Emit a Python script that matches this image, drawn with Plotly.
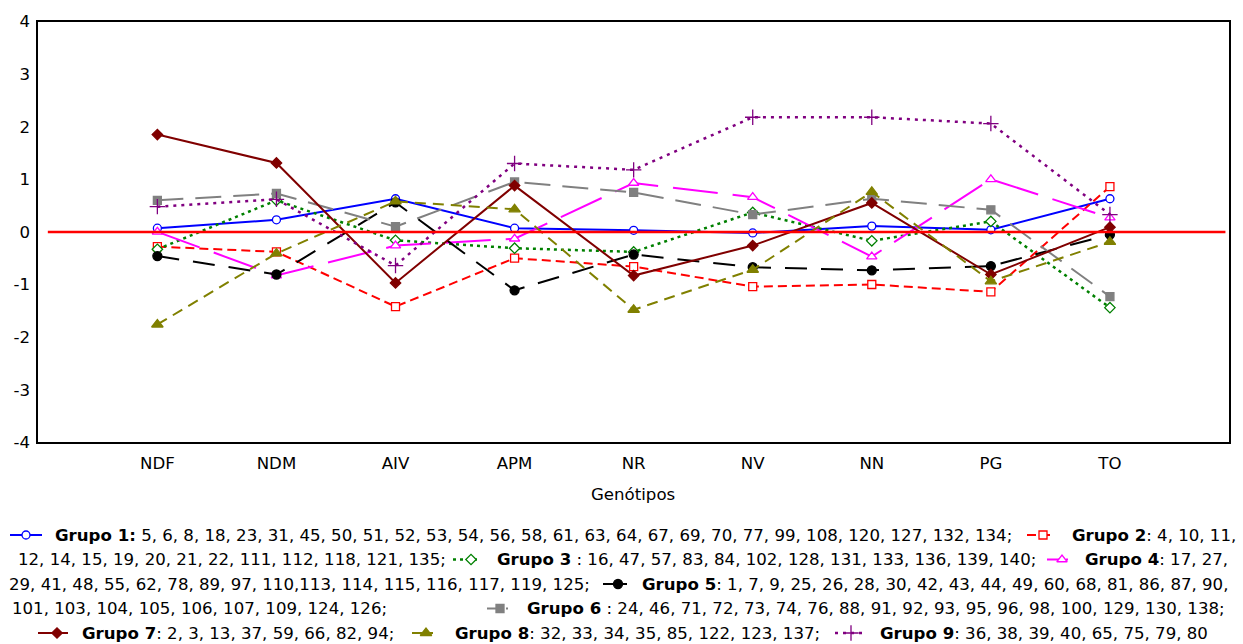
import plotly.graph_objects as go

# Traits evaluated and the mean profile of each genotype group
traits = ["NDF", "NDM", "AIV", "APM", "NR", "NV", "NN", "PG", "TO"]

grupo1 = [0.07, 0.23, 0.63, 0.07, 0.03, -0.02, 0.11, 0.04, 0.63]
grupo2 = [-0.28, -0.38, -1.42, -0.50, -0.66, -1.04, -1.00, -1.14, 0.86]
grupo3 = [-0.33, 0.60, -0.16, -0.31, -0.38, 0.37, -0.17, 0.20, -1.44]
grupo4 = [0.00, -0.83, -0.26, -0.13, 0.93, 0.66, -0.47, 1.00, 0.27]
grupo5 = [-0.46, -0.81, 0.56, -1.11, -0.43, -0.67, -0.73, -0.65, -0.05]
grupo6 = [0.60, 0.73, 0.10, 0.95, 0.75, 0.33, 0.63, 0.42, -1.23]
grupo7 = [1.85, 1.31, -0.97, 0.88, -0.83, -0.26, 0.55, -0.81, 0.09]
grupo8 = [-1.76, -0.41, 0.58, 0.43, -1.48, -0.72, 0.76, -0.94, -0.19]
grupo9 = [0.48, 0.62, -0.64, 1.30, 1.18, 2.18, 2.18, 2.06, 0.33]

y_ticks = [-4, -3, -2, -1, 0, 1, 2, 3, 4]
y_tick_labels = ["-4", "-3", "-2", "-1", "0", "1", "2", "3", "4"]

W, H = 1243, 644
FONT = "DejaVu Sans"
FS = 16.6

# per-group styling: values, colour, dash, marker symbol, size, fill, line width
styles = [
    (grupo1, "#0000FF", "solid", "circle", 8, "white", 2),
    (grupo2, "#FF0000", "9px,5px", "square", 8, "white", 2),
    (grupo3, "#008000", "3px,4px", "diamond", 8, "white", 2.5),
    (grupo4, "#FF00FF", "45px,15px", "triangle-up", 9, "white", 2),
    (grupo5, "#000000", "22px,14px", "circle", 9, "#000000", 2),
    (grupo6, "#808080", "26px,12px", "square", 8, "#808080", 2),
    (grupo7, "#800000", "solid", "diamond", 8, "#800000", 2),
    (grupo8, "#808000", "11px,7px", "triangle-up", 10, "#808000", 2),
    (grupo9, "#800080", "3px,5px", "cross-thin", 11, "#800080", 2.5),
]

xpos = list(range(1, len(traits) + 1))

fig = go.Figure()

for i, (vals, col, dash, sym, size, fill, lw) in enumerate(styles):
    fig.add_trace(go.Scatter(
        x=xpos, y=vals, mode="lines+markers", name=f"Grupo {i + 1}",
        line=dict(color=col, width=lw, dash=dash),
        marker=dict(symbol=sym, size=size, color=fill, line=dict(color=col, width=1.3)),
        showlegend=False, xaxis="x", yaxis="y",
    ))

# horizontal reference at zero
fig.add_shape(type="line", xref="x", yref="y", x0=0.08, x1=9.97, y0=0, y1=0,
              line=dict(color="#FF0000", width=2.5), layer="above")

# ---- legend drawn in figure pixel space (x2/y2) ----
line_y = [535, 559.5, 584, 608.5, 633]
legend_keys = [
    # (group index, x_start, x_end, marker_x, row)
    (0, 10, 42, 26, 0),
    (1, 1027, 1052, 1043, 0),
    (2, 453, 480, 471, 1),
    (3, 1047, 1068, 1062, 1),
    (4, 603, 627, 618, 2),
    (5, 487, 508, 500, 3),
    (6, 38, 68, 57, 4),
    (7, 412, 433, 426, 4),
    (8, 835, 867, 851, 4),
]
for gi, xs, xe, xm, row in legend_keys:
    vals, col, dash, sym, size, fill, lw = styles[gi]
    yy = line_y[row]
    short_dash = dash
    if dash != "solid":
        a, b = [float(p.replace("px", "")) for p in dash.split(",")]
        if a > 12:
            short_dash = "%dpx,%dpx" % (min(a, 14), min(b, 5))
    fig.add_trace(go.Scatter(
        x=[xs, xe], y=[yy, yy], mode="lines",
        line=dict(color=col, width=lw, dash=short_dash),
        showlegend=False, hoverinfo="skip", xaxis="x2", yaxis="y2",
    ))
    fig.add_trace(go.Scatter(
        x=[xm], y=[yy], mode="markers",
        marker=dict(symbol=sym, size=size, color=fill, line=dict(color=col, width=1.3)),
        showlegend=False, hoverinfo="skip", xaxis="x2", yaxis="y2",
    ))

legend_text = [
    (53, 0, "<b>Grupo 1:</b> 5, 6, 8, 18, 23, 31, 45, 50, 51, 52, 53, 54, 56, 58, 61, 63, 64, 67, 69, 70, 77, 99, 108, 120, 127, 132, 134;"),
    (1070, 0, "<b>Grupo 2</b>: 4, 10, 11,"),
    (16, 1, "12, 14, 15, 19, 20, 21, 22, 111, 112, 118, 121, 135;"),
    (495, 1, "<b>Grupo 3</b> : 16, 47, 57, 83, 84, 102, 128, 131, 133, 136, 139, 140;"),
    (1083, 1, "<b>Grupo 4</b>: 17, 27,"),
    (7, 2, "29, 41, 48, 55, 62, 78, 89, 97, 110,113, 114, 115, 116, 117, 119, 125;"),
    (640, 2, "<b>Grupo 5</b>: 1, 7, 9, 25, 26, 28, 30, 42, 43, 44, 49, 60, 68, 81, 86, 87, 90,"),
    (10, 3, "101, 103, 104, 105, 106, 107, 109, 124, 126;"),
    (525, 3, "<b>Grupo 6</b> : 24, 46, 71, 72, 73, 74, 76, 88, 91, 92, 93, 95, 96, 98, 100, 129, 130, 138;"),
    (80, 4, "<b>Grupo 7</b>: 2, 3, 13, 37, 59, 66, 82, 94;"),
    (453, 4, "<b>Grupo 8</b>: 32, 33, 34, 35, 85, 122, 123, 137;"),
    (878, 4, "<b>Grupo 9</b>: 36, 38, 39, 40, 65, 75, 79, 80"),
]
annotations = []
for x0, row, txt in legend_text:
    annotations.append(dict(
        x=x0, y=line_y[row], xref="x2", yref="y2", text=txt, showarrow=False,
        xanchor="left", yanchor="middle", font=dict(family=FONT, size=FS, color="black"),
    ))

annotations.append(dict(
    x=633, y=494, xref="x2", yref="y2", text="Genótipos", showarrow=False,
    xanchor="center", yanchor="middle", font=dict(family=FONT, size=FS, color="black"),
))

x0p, x1p = 38.3 / W, 1229 / W
y0p, y1p = 1 - 442.3 / H, 1 - 21.5 / H

fig.update_layout(
    width=W, height=H, autosize=False,
    margin=dict(l=0, r=0, t=0, b=0, pad=0),
    paper_bgcolor="white", plot_bgcolor="rgba(0,0,0,0)",
    font=dict(family=FONT, size=FS, color="black"),
    annotations=annotations,
    xaxis=dict(
        domain=[x0p, x1p], range=[0, 10], tickvals=xpos, ticktext=traits,
        showgrid=False, zeroline=False, showline=True, mirror=True,
        linecolor="black", linewidth=2, ticks="", ticklabelstandoff=5,
        tickfont=dict(family=FONT, size=FS, color="black"), anchor="y",
        automargin=False,
    ),
    yaxis=dict(
        domain=[y0p, y1p], range=[-4, 4], tickvals=y_ticks, ticktext=y_tick_labels,
        showgrid=False, zeroline=False, showline=True, mirror=True,
        linecolor="black", linewidth=2, ticks="", ticklabelstandoff=3,
        tickfont=dict(family=FONT, size=FS, color="black"), anchor="x",
        automargin=False,
    ),
    xaxis2=dict(domain=[0, 1], range=[0, W], visible=False, anchor="y2",
                fixedrange=True, automargin=False),
    yaxis2=dict(domain=[0, 1], range=[H, 0], visible=False, anchor="x2",
                fixedrange=True, automargin=False),
)

fig.write_html("out.html")
